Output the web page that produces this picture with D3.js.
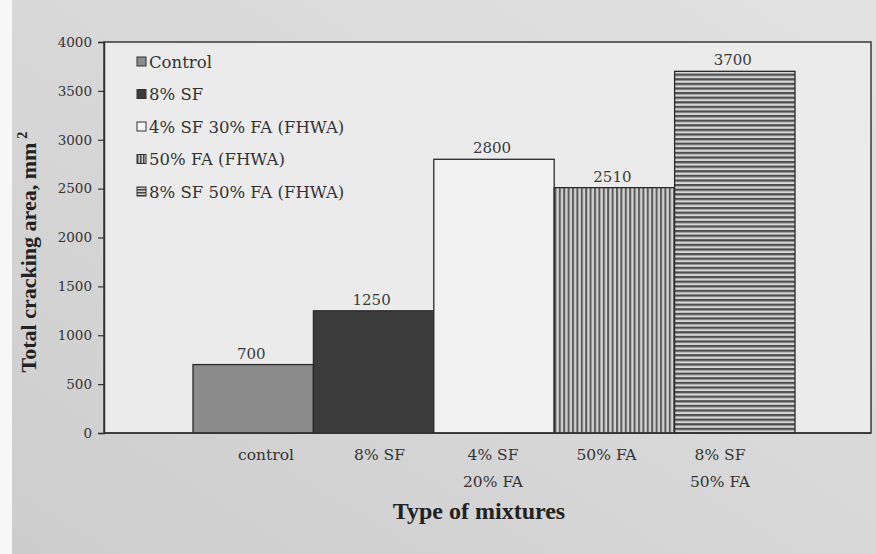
<!DOCTYPE html>
<html>
<head>
<meta charset="utf-8">
<script src="https://cdn.jsdelivr.net/npm/d3@7/dist/d3.min.js"></script>
<style>
  html, body { margin: 0; padding: 0; background: #fff; }
  svg { display: block; }
</style>
</head>
<body>
<svg id="chart" width="876" height="554"></svg>
<script>
// Total cracking area of each mixture type
const categories = ["control", "8% SF", "4% SF\n20% FA", "50% FA", "8% SF\n50% FA"];
const values = [700, 1250, 2800, 2510, 3700];
const legendLabels = ["Control", "8% SF", "4% SF 30% FA (FHWA)", "50% FA (FHWA)", "8% SF 50% FA (FHWA)"];
const yTicks = [0, 500, 1000, 1500, 2000, 2500, 3000, 3500, 4000];

const svg = d3.select("#chart");
const W = 876, H = 554;
const font = "'DejaVu Serif', serif";
const titleFont = "'Liberation Serif', 'DejaVu Serif', serif";

const defs = svg.append("defs");

// page tone: darker toward the lower left, lighter toward the upper right
const bg = defs.append("linearGradient").attr("id", "page")
  .attr("x1", "0").attr("y1", "1").attr("x2", "1").attr("y2", "0");
bg.append("stop").attr("offset", "0").attr("stop-color", "#cdcdcd");
bg.append("stop").attr("offset", "1").attr("stop-color", "#e2e2e2");

// vertical hatch
const pv = defs.append("pattern").attr("id", "vstripe")
  .attr("patternUnits", "userSpaceOnUse").attr("width", 4.4).attr("height", 10);
pv.append("rect").attr("width", 4.4).attr("height", 10).attr("fill", "#d2d2d2");
pv.append("rect").attr("x", 0).attr("width", 2).attr("height", 10).attr("fill", "#5a5a5a");

// horizontal hatch
const ph = defs.append("pattern").attr("id", "hstripe")
  .attr("patternUnits", "userSpaceOnUse").attr("width", 10).attr("height", 4.6);
ph.append("rect").attr("width", 10).attr("height", 4.6).attr("fill", "#d6d6d6");
ph.append("rect").attr("y", 0).attr("width", 10).attr("height", 2.3).attr("fill", "#4e4e4e");

// small legend hatches
const pvs = defs.append("pattern").attr("id", "vstripeS")
  .attr("patternUnits", "userSpaceOnUse").attr("width", 3).attr("height", 10);
pvs.append("rect").attr("width", 3).attr("height", 10).attr("fill", "#d0d0d0");
pvs.append("rect").attr("width", 1.5).attr("height", 10).attr("fill", "#444");
const phs = defs.append("pattern").attr("id", "hstripeS")
  .attr("patternUnits", "userSpaceOnUse").attr("width", 10).attr("height", 3);
phs.append("rect").attr("width", 10).attr("height", 3).attr("fill", "#d0d0d0");
phs.append("rect").attr("width", 10).attr("height", 1.5).attr("fill", "#444");

const fills = ["#8c8c8c", "#3c3c3c", "#f2f2f2", "url(#vstripe)", "url(#hstripe)"];
const legendFills = ["#8c8c8c", "#3c3c3c", "#f4f4f4", "url(#vstripeS)", "url(#hstripeS)"];

// page background
svg.append("rect").attr("width", W).attr("height", H).attr("fill", "url(#page)");
svg.append("rect").attr("width", 12).attr("height", H).attr("fill", "#f7f7f7");

const plot = { left: 104, right: 871, top: 42, bottom: 433 };

// plot area
svg.append("rect")
  .attr("x", plot.left).attr("y", plot.top)
  .attr("width", plot.right - plot.left).attr("height", plot.bottom - plot.top)
  .attr("fill", "#ebebeb")
  .attr("stroke", "#3a3a3a").attr("stroke-width", 1.5);

const x = d3.scaleBand().domain(categories).range([193, 795]).padding(0);
const xLabel = d3.scalePoint().domain(categories).range([266, 720]);
const y = d3.scaleLinear().domain([0, 4000]).range([plot.bottom, plot.top]);

// bars
svg.append("g").selectAll("rect")
  .data(values)
  .join("rect")
  .attr("x", (d, i) => x(categories[i]))
  .attr("y", d => y(d))
  .attr("width", x.bandwidth())
  .attr("height", d => y(0) - y(d))
  .attr("fill", (d, i) => fills[i])
  .attr("stroke", "#2a2a2a").attr("stroke-width", 1.3);

// value labels
svg.append("g").selectAll("text")
  .data(values)
  .join("text")
  .attr("x", (d, i) => x(categories[i]) + x.bandwidth() / 2 - 2)
  .attr("y", d => y(d) - 6)
  .attr("text-anchor", "middle")
  .attr("font-family", font).attr("font-size", 15).attr("fill", "#3a3a3a")
  .text(d => d);

// y axis
const yAxis = svg.append("g")
  .attr("transform", `translate(${plot.left},0)`)
  .call(d3.axisLeft(y).tickValues(yTicks).tickSize(6).tickPadding(6).tickFormat(d3.format("d")));
yAxis.select(".domain").attr("stroke", "#333").attr("stroke-width", 1.5);
yAxis.selectAll(".tick line").attr("stroke", "#333").attr("stroke-width", 1.2);
yAxis.selectAll(".tick text")
  .attr("font-family", font).attr("font-size", 13.5).attr("fill", "#333");

// x axis baseline
svg.append("line")
  .attr("x1", plot.left).attr("x2", plot.right)
  .attr("y1", y(0)).attr("y2", y(0))
  .attr("stroke", "#333").attr("stroke-width", 1.5);

// category labels
const catG = svg.append("g");
categories.forEach(c => {
  const t = catG.append("text")
    .attr("x", xLabel(c)).attr("y", 460)
    .attr("text-anchor", "middle")
    .attr("font-family", font).attr("font-size", 15.5).attr("fill", "#333");
  c.split("\n").forEach((line, j) => {
    t.append("tspan").attr("x", xLabel(c)).attr("dy", j === 0 ? 0 : 27).text(line);
  });
});

// axis titles
svg.append("text")
  .attr("x", 479).attr("y", 519)
  .attr("text-anchor", "middle")
  .attr("font-family", titleFont).attr("font-size", 24).attr("font-weight", "bold").attr("fill", "#222")
  .text("Type of mixtures");

const yt = svg.append("text")
  .attr("transform", "translate(36,252) rotate(-90)")
  .attr("text-anchor", "middle")
  .attr("font-family", titleFont).attr("font-size", 22).attr("font-weight", "bold").attr("fill", "#222");
yt.append("tspan").text("Total cracking area, mm");
yt.append("tspan").attr("dy", -9).attr("font-size", 14).attr("dx", 4).text("2");

// legend
const lg = svg.append("g").attr("transform", "translate(137,62)");
const rows = lg.selectAll("g").data(legendLabels).join("g")
  .attr("transform", (d, i) => `translate(0,${i * 32.5})`);
rows.append("rect")
  .attr("x", 0).attr("y", -5).attr("width", 9).attr("height", 9)
  .attr("fill", (d, i) => legendFills[i])
  .attr("stroke", "#333").attr("stroke-width", 1);
rows.append("text")
  .attr("x", 12).attr("y", 5.5)
  .attr("font-family", font).attr("font-size", 16.5).attr("fill", "#333")
  .text(d => d);
</script>
</body>
</html>
